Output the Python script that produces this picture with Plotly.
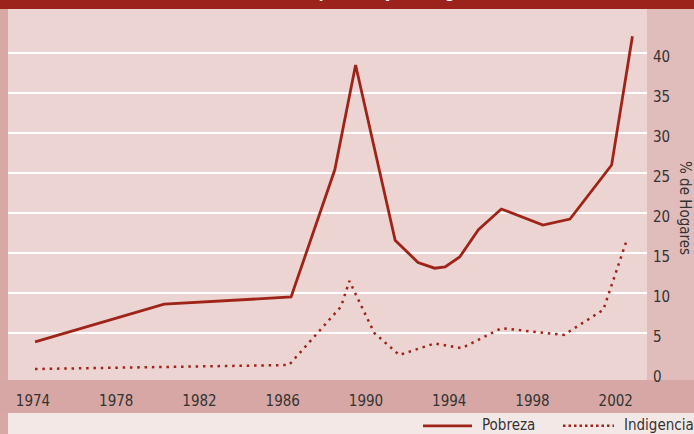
import plotly.graph_objects as go

# ---------------- data ----------------
pobreza_x = [1974.1, 1980.3, 1986.4, 1988.5, 1989.5, 1991.4, 1992.5, 1993.3, 1993.8,
             1994.5, 1995.4, 1996.5, 1998.5, 1999.8, 2001.8, 2002.8]
pobreza_y = [3.9, 8.6, 9.5, 25.4, 38.5, 16.6, 13.8, 13.1, 13.25,
             14.5, 17.9, 20.5, 18.5, 19.25, 26.0, 42.1]

indig_x = [1974.1, 1986.3, 1988.8, 1989.2, 1990.4, 1991.6, 1993.3, 1994.6,
           1996.5, 1999.5, 2001.4, 2002.5]
indig_y = [0.5, 1.0, 8.3, 11.5, 5.0, 2.25, 3.7, 3.1,
           5.6, 4.75, 7.9, 16.4]

x_ticks = [1974, 1978, 1982, 1986, 1990, 1994, 1998, 2002]
y_ticks = [0, 5, 10, 15, 20, 25, 30, 35, 40]
series_names = ["Pobreza", "Indigencia"]
y_title = "% de Hogares"
chart_title = "Evolución de la pobreza y la indigencia"

# ---------------- style ----------------
W, H = 694, 434
L, R, T, B = 8, 47, 9, 54
PW, PH = W - L - R, H - T - B
RED = "#9E2419"
FONT = "Liberation Sans Narrow, DejaVu Sans Condensed, Arial Narrow, sans-serif"
TXT = "#333333"
PLOT_BG = "#EBD4D2"


def px(xpix):
    return (xpix - L) / PW


def py(ypix):
    return (H - B - ypix) / PH


fig = go.Figure()
fig.add_trace(go.Scatter(x=pobreza_x, y=pobreza_y, mode="lines", name=series_names[0],
                         line=dict(color=RED, width=2.8), showlegend=False))
fig.add_trace(go.Scatter(x=indig_x, y=indig_y, mode="lines", name=series_names[1],
                         line=dict(color=RED, width=2.5, dash="2.5px,4.8px"), showlegend=False))

shapes = [
    # left strip
    dict(type="rect", xref="paper", yref="paper", x0=px(0), x1=px(8), y0=py(434), y1=py(0),
         fillcolor="#D8A8A5", line_width=0, layer="below"),
    # bottom band
    dict(type="rect", xref="paper", yref="paper", x0=px(0), x1=px(694), y0=py(413), y1=py(380),
         fillcolor="#D6A7A4", line_width=0, layer="below"),
    # legend band
    dict(type="rect", xref="paper", yref="paper", x0=px(8), x1=px(694), y0=py(434), y1=py(413),
         fillcolor="#F4E8E7", line_width=0, layer="below"),
    # title bar
    dict(type="rect", xref="paper", yref="paper", x0=px(0), x1=px(694), y0=py(9), y1=py(-2),
         fillcolor="#9B231B", line_width=0, layer="below"),
    # legend samples
    dict(type="line", xref="paper", yref="paper", x0=px(423), x1=px(472), y0=py(425.8), y1=py(425.8),
         line=dict(color=RED, width=2.8)),
    dict(type="line", xref="paper", yref="paper", x0=px(563), x1=px(614), y0=py(425.8), y1=py(425.8),
         line=dict(color=RED, width=2.5, dash="2.5px,3px")),
]

annotations = [
    dict(text=series_names[0], xref="paper", yref="paper", x=px(480), y=py(425),
         xanchor="left", yanchor="middle", showarrow=False, font=dict(family=FONT, size=15, color=TXT)),
    dict(text=series_names[1], xref="paper", yref="paper", x=px(622), y=py(425),
         xanchor="left", yanchor="middle", showarrow=False, font=dict(family=FONT, size=15, color=TXT)),
    dict(text=y_title, xref="paper", yref="paper", x=px(685), y=py(208), textangle=90,
         xanchor="center", yanchor="middle", showarrow=False, font=dict(family=FONT, size=15, color=TXT)),
    dict(text="<b>" + chart_title + "</b>", xref="paper", yref="paper", x=px(347), y=py(4),
         xanchor="center", yanchor="bottom", showarrow=False,
         font=dict(family=FONT, size=15, color="white")),
]

fig.update_layout(
    width=W, height=H,
    margin=dict(l=L, r=R, t=T, b=B, pad=0),
    paper_bgcolor="#E0BDBA",
    plot_bgcolor=PLOT_BG,
    showlegend=False,
    shapes=shapes,
    annotations=annotations,
    xaxis=dict(range=[1972.8, 2003.5], tickmode="array", tickvals=x_ticks,
               ticktext=[str(v) for v in x_ticks], showgrid=False, zeroline=False,
               showline=False, ticks="", ticklabelstandoff=10,
               tickfont=dict(family=FONT, size=15, color=TXT)),
    yaxis=dict(range=[-0.875, 45.5], side="right", tickmode="array", tickvals=y_ticks,
               ticktext=[str(v) for v in y_ticks], showgrid=True, gridcolor="white",
               gridwidth=2, zeroline=True, zerolinecolor=PLOT_BG, zerolinewidth=3,
               showline=False, ticks="", ticklabelstandoff=5, ticklabelshift=4,
               tickfont=dict(family=FONT, size=15, color=TXT)),
)

fig.write_html("out.html", config={"displayModeBar": False},
               post_script="document.body.style.margin='0';document.body.style.overflow='hidden';")
